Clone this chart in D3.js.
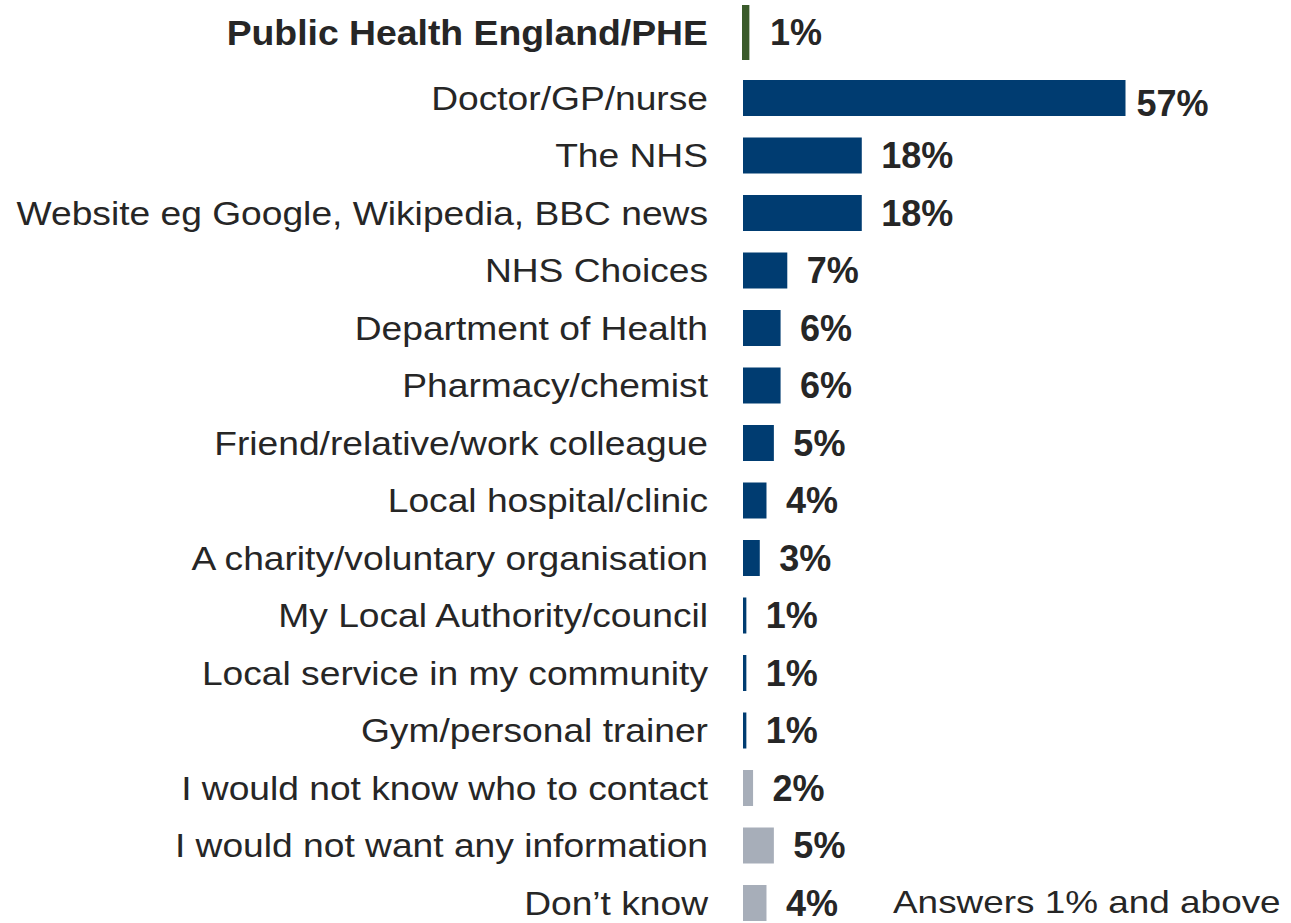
<!DOCTYPE html>
<html>
<head>
<meta charset="utf-8">
<script src="https://cdn.jsdelivr.net/npm/d3@7"></script>
<style>
  html, body { margin: 0; padding: 0; background: #ffffff; }
  svg { display: block; }
</style>
</head>
<body>
<svg id="chart" width="1291" height="923"></svg>
<script>
// ---- data ----
const categories = [
  "Public Health England/PHE",
  "Doctor/GP/nurse",
  "The NHS",
  "Website eg Google, Wikipedia, BBC news",
  "NHS Choices",
  "Department of Health",
  "Pharmacy/chemist",
  "Friend/relative/work colleague",
  "Local hospital/clinic",
  "A charity/voluntary organisation",
  "My Local Authority/council",
  "Local service in my community",
  "Gym/personal trainer",
  "I would not know who to contact",
  "I would not want any information",
  "Don\u2019t know"
];
// estimated bar lengths (percent)
const values = [1.1, 57.0, 17.7, 17.7, 6.6, 5.6, 5.6, 4.6, 3.5, 2.5, 0.5, 0.5, 0.5, 1.5, 4.6, 3.5];
// displayed labels
const valueLabels = ["1%", "57%", "18%", "18%", "7%", "6%", "6%", "5%", "4%", "3%", "1%", "1%", "1%", "2%", "5%", "4%"];
// group: highlight / source / other
const groups = ["highlight", "source", "source", "source", "source", "source", "source", "source", "source", "source", "source", "source", "source", "other", "other", "other"];
const footnote = "Answers 1% and above";

// ---- styles ----
const colors = { highlight: "#3a5a2a", source: "#003c71", other: "#a7aeb9" };
const textColor = "#262626";
const fontFamily = "'Liberation Sans', Arial, Helvetica, sans-serif";

const svg = d3.select("#chart");
const x0 = 743;
const x = d3.scaleLinear().domain([0, 57]).range([x0, 1125.5]);
const y = d3.scalePoint().domain(categories).range([40.5, 903]);
const yPos = (d, i) => y(d) - (i === 0 ? 8 : 0);
const barH = (i) => i === 0 ? 55 : 36;

const rows = categories.map((c, i) => ({ c, v: values[i], lab: valueLabels[i], g: groups[i], i }));

// bars
svg.append("g").selectAll("rect").data(rows).join("rect")
  .attr("x", d => x(0) - (d.i === 0 ? 1 : 0))
  .attr("y", d => yPos(d.c, d.i) - barH(d.i) / 2)
  .attr("width", d => x(d.v) - x(0))
  .attr("height", d => barH(d.i))
  .attr("fill", d => colors[d.g]);

// category labels
svg.append("g").selectAll("text").data(rows).join("text")
  .attr("transform", d => `translate(708,${yPos(d.c, d.i)}) scale(${d.i === 0 ? 1.067 : 1.11},1)`)
  .attr("dy", "0.35em")
  .attr("text-anchor", "end")
  .attr("font-family", fontFamily)
  .attr("font-size", d => d.i === 0 ? 35 : 33.5)
  .attr("font-weight", d => d.i === 0 ? "bold" : "normal")
  .attr("fill", textColor)
  .text(d => d.c);

// value labels
svg.append("g").selectAll("text").data(rows).join("text")
  .attr("x", d => x(d.v) + (d.i === 1 ? 11 : 19.5))
  .attr("y", d => yPos(d.c, d.i) + (d.i === 1 ? 5.5 : 0))
  .attr("dy", "0.35em")
  .attr("text-anchor", "start")
  .attr("font-family", fontFamily)
  .attr("font-size", 36)
  .attr("font-weight", "bold")
  .attr("fill", textColor)
  .text(d => d.lab);

// footnote
svg.append("text")
  .attr("transform", "translate(893,913) scale(1.21,1)")
  .attr("font-family", fontFamily)
  .attr("font-size", 30.5)
  .attr("fill", textColor)
  .text(footnote);
</script>
</body>
</html>
